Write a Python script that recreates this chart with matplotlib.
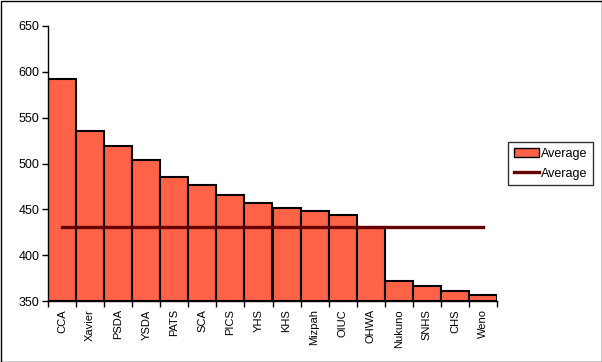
import matplotlib
matplotlib.use("Agg")
import matplotlib.pyplot as plt
from matplotlib.patches import Rectangle, Patch
from matplotlib.lines import Line2D
import numpy as np

plt.rcParams['font.family'] = ['Liberation Sans', 'DejaVu Sans']

schools = ["CCA", "Xavier", "PSDA", "YSDA", "PATS", "SCA", "PICS", "YHS", "KHS",
           "Mizpah", "OIUC", "OHWA", "Nukuno", "SNHS", "CHS", "Weno"]
scores = [592, 535, 519, 504, 485, 477, 466, 457, 451, 448, 444, 431, 372, 366, 361, 357]
overall_avg = [431] * len(schools)
yticks = [350, 400, 450, 500, 550, 600, 650]

W, H = 602, 362
fig = plt.figure(figsize=(W / 100, H / 100), dpi=100)
fig.patch.set_facecolor('white')
ax = fig.add_axes([48 / W, (H - 301) / H, (497 - 48) / W, (301 - 26) / H])

x = np.arange(len(schools))
ax.bar(x, [s - 350 for s in scores], bottom=350, width=1.0, color='#FF6347',
       edgecolor='black', linewidth=1.5, zorder=2)
ax.plot(x, overall_avg, color='#660000', linewidth=2.4, zorder=3)

ax.set_xlim(-0.5, len(schools) - 0.5)
ax.set_ylim(350, 650)
ax.set_yticks(yticks)
ax.set_yticklabels([str(t) for t in yticks], fontsize=9)
ax.tick_params(axis='y', direction='out', length=4, width=1, pad=2)

ax.set_xticks(x)
ax.set_xticklabels(schools, rotation=90, fontsize=8, va='top')
ax.tick_params(axis='x', which='major', length=0, pad=6)
ax.set_xticks(np.arange(-0.5, len(schools)), minor=True)
ax.tick_params(axis='x', which='minor', direction='out', length=4, width=1)

for s in ['top', 'right']:
    ax.spines[s].set_visible(False)
for s in ['left', 'bottom']:
    ax.spines[s].set_linewidth(1)

handles = [Patch(facecolor='#FF6347', edgecolor='black', linewidth=1),
           Line2D([0], [0], color='#660000', linewidth=2.4)]
leg = fig.legend(handles, ['Average', 'Average'], loc='upper left',
                 bbox_to_anchor=(508 / W, 1 - 142 / H), fontsize=9,
                 frameon=True, fancybox=False, edgecolor='black',
                 handlelength=2.0, handletextpad=0.2, borderpad=0.45,
                 labelspacing=0.65, borderaxespad=0)
leg.get_frame().set_linewidth(1)

fig.patches.append(Rectangle((0.5 / W, 0.5 / H), 1 - 1 / W, 1 - 1 / H,
                             transform=fig.transFigure, fill=False,
                             edgecolor='black', linewidth=1))

fig.savefig('out.png', dpi=100)
